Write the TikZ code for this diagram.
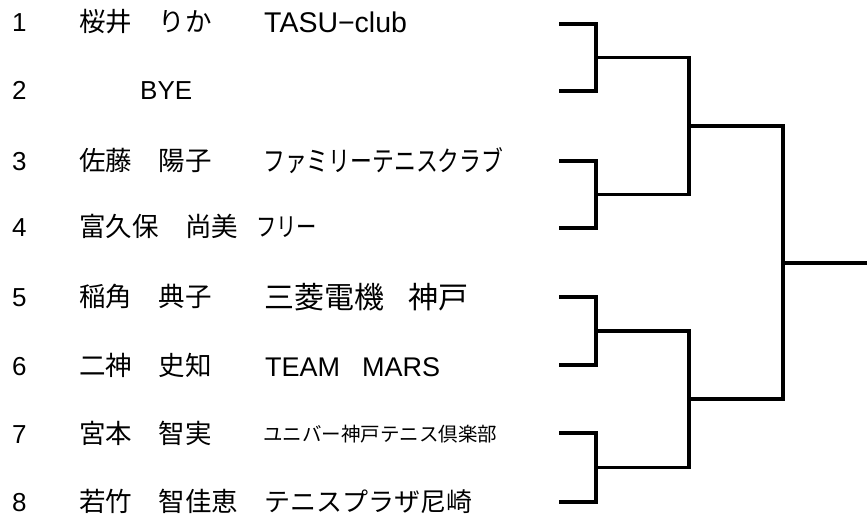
\documentclass[tikz,border=0pt]{standalone}
\usepackage{fontspec}
\setmainfont{Liberation Sans}
\newfontfamily\jp{Noto Sans CJK JP}
\usetikzlibrary{positioning}

\tikzset{
  seed/.style={anchor=base west, inner sep=0pt, font=\fontsize{26}{30}\selectfont},
  player/.style={anchor=base west, inner sep=0pt, font=\jp\fontsize{26.5}{30}\selectfont},
  club/.style={anchor=base west, inner sep=0pt, font=\jp\fontsize{26}{30}\selectfont},
  bracket/.style={line width=3.4pt, line join=miter}
}

\begin{document}
\begin{tikzpicture}[x=1pt, y=-1pt]
        \useasboundingbox (0,0) rectangle (867,524);

        % Seeds
        \node[seed] (n1) at (12,32) {1};
        \node[seed] (n2) at (12,100) {2};
        \node[seed] (n3) at (12,170) {3};
        \node[seed] (n4) at (12,236) {4};
        \node[seed] (n5) at (12,306) {5};
        \node[seed] (n6) at (12,375) {6};
        \node[seed] (n7) at (12,443) {7};
        \node[seed] (n8) at (12,511) {8};

        % Players
        \node[player] (p1) at (79,32) {桜井　りか};
        \node[seed] (p2) at (140,100) {BYE};
        \node[player] (p3) at (79,170) {佐藤　陽子};
        \node[player] (p4) at (79,236) {富久保　尚美};
        \node[player] (p5) at (79,306) {稲角　典子};
        \node[player] (p6) at (79,375) {二神　史知};
        \node[player] (p7) at (79,443) {宮本　智実};
        \node[player] (p8) at (79,511) {若竹　智佳恵};

        % Clubs
        \node[seed, font=\fontsize{28.5}{30}\selectfont] (c1) at (264,33) {TASU−club};
        \node[club, font=\jp\fontsize{28}{30}\selectfont] (c3) at (263,171) {\scalebox{0.78}[1]{ファミリーテニスクラブ}};
        \node[club] (c4) at (256,236) {\scalebox{0.78}[1]{フリー}};
        \node[club, font=\jp\fontsize{30}{32}\selectfont] (c5) at (264,308) {三菱電機\hspace{24pt}神戸};
        \node[seed, font=\fontsize{27}{30}\selectfont] (c6) at (265,376) {TEAM\hspace{22pt}MARS};
        \node[club, font=\jp\fontsize{19.5}{22}\selectfont] (c7) at (263,441) {ユニバー神戸テニス倶楽部};
        \node[club] (c8) at (264,511) {テニスプラザ尼崎};

        % Draw lines
        \coordinate (s1) at (559,24);
        \coordinate (s2) at (559,91);
        \coordinate (s3) at (559,161);
        \coordinate (s4) at (559,228);
        \coordinate (s5) at (559,297);
        \coordinate (s6) at (559,365);
        \coordinate (s7) at (559,433);
        \coordinate (s8) at (559,502);
        \coordinate (a1) at (596,57.5);
        \coordinate (a2) at (596,194.5);
        \coordinate (a3) at (596,331);
        \coordinate (a4) at (596,467.5);
        \coordinate (b1) at (689,126);
        \coordinate (b2) at (689,399);
        \coordinate (final) at (783,263);
        \coordinate (winner) at (867,263);

        \draw[bracket] (s1) -| (a1) |- (s2);
        \draw[bracket] (s3) -| (a2) |- (s4);
        \draw[bracket] (s5) -| (a3) |- (s6);
        \draw[bracket] (s7) -| (a4) |- (s8);
        \draw[bracket] (a1) -| (b1) |- (a2);
        \draw[bracket] (a3) -| (b2) |- (a4);
        \draw[bracket] (b1) -| (final) |- (b2);
        \draw[bracket] (final) -- (winner);

      \end{tikzpicture}
\end{document}
